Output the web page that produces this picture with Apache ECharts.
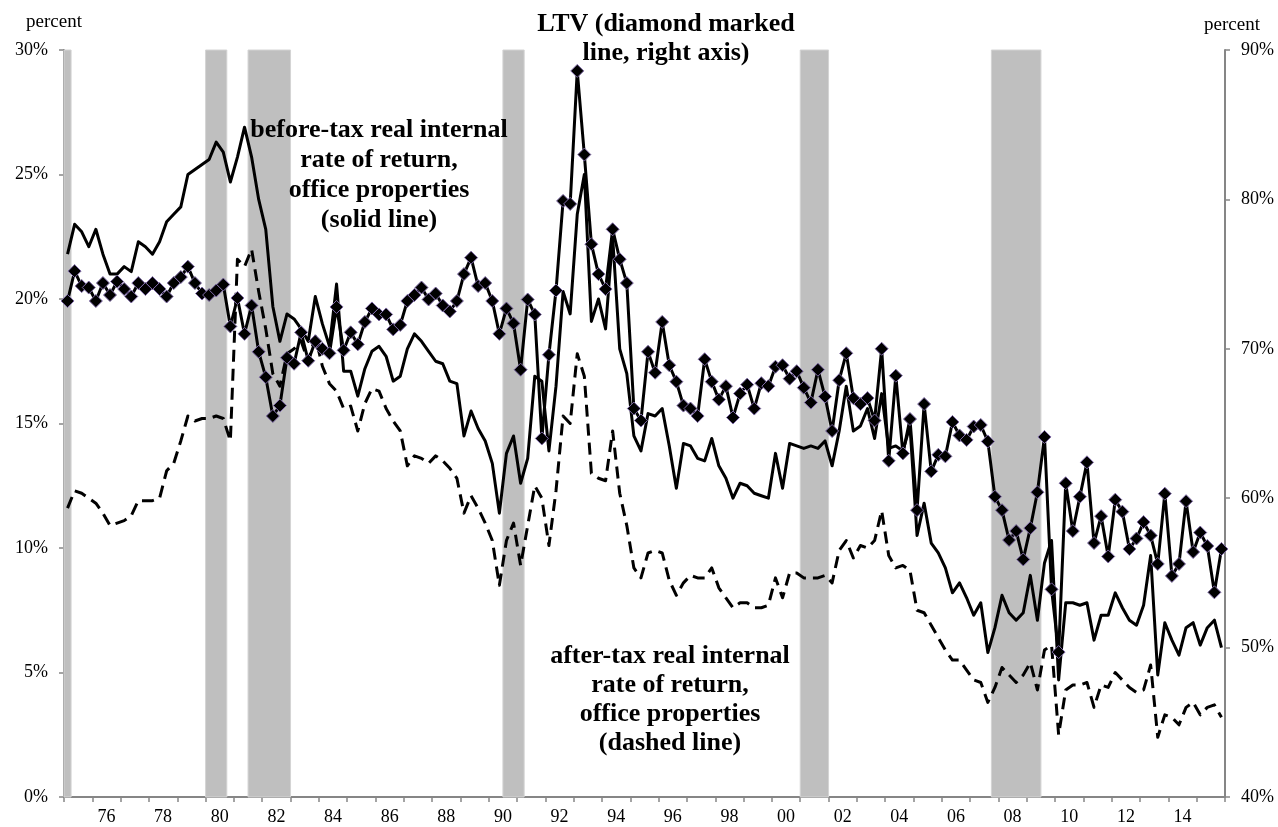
<!DOCTYPE html>
<html>
<head>
<meta charset="utf-8">
<script src="https://cdn.jsdelivr.net/npm/echarts@6/dist/echarts.min.js"></script>
<style>
html,body{margin:0;padding:0;background:#fff;}
#chart{width:1278px;height:827px;}
</style>
</head>
<body>
<div id="chart"></div>
<script>
// Quarterly categories 1975Q1 .. 2015Q4
const firstYear = 1975;
const lastYear = 2015;
const quarters = [];
const years = [];
for (let y = firstYear; y <= lastYear; y++) {
  years.push(String(y));
  for (let q = 1; q <= 4; q++) quarters.push(y + 'Q' + q);
}

// NBER recession periods (first and last quarter, shaded)
const recessionPeriods = [
  ['1975Q1', '1975Q1'],
  ['1980Q1', '1980Q3'],
  ['1981Q3', '1982Q4'],
  ['1990Q3', '1991Q1'],
  ['2001Q1', '2001Q4'],
  ['2007Q4', '2009Q2']
];

// LTV, percent (right axis), one value per quarter
const ltv = [
  73.2,75.2,74.2,74.1, 73.2,74.4,73.6,74.5, 74.0,73.5,74.4,74.0, 74.4,74.0,73.5,74.4,
  74.8,75.5,74.4,73.7, 73.6,73.9,74.3,71.5, 73.4,71.0,72.9,69.8, 68.1,65.5,66.2,69.4,
  69.0,71.1,69.2,70.5, 70.0,69.7,72.8,69.9, 71.1,70.3,71.8,72.7, 72.3,72.3,71.3,71.6,
  73.2,73.6,74.1,73.3, 73.7,72.9,72.5,73.2, 75.0,76.1,74.2,74.4, 73.2,71.0,72.7,71.7,
  68.6,73.3,72.3,64.0, 69.6,73.9,79.9,79.7, 88.6,83.0,77.0,75.0, 74.0,78.0,76.0,74.4,
  66.0,65.2,69.8,68.4, 71.8,68.9,67.8,66.2, 66.0,65.5,69.3,67.8, 66.6,67.5,65.4,67.0,
  67.6,66.0,67.7,67.5, 68.8,68.9,68.0,68.5, 67.4,66.4,68.6,66.8, 64.5,67.9,69.7,66.7,
  66.3,66.7,65.2,70.0, 62.5,68.2,63.0,65.3, 59.2,66.3,61.8,62.9, 62.8,65.1,64.2,63.9,
  64.8,64.9,63.8,60.1, 59.2,57.2,57.8,55.9, 58.0,60.4,64.1,53.9, 49.7,61.0,57.8,60.1,
  62.4,57.0,58.8,56.1, 59.9,59.1,56.6,57.3, 58.4,57.5,55.6,60.3, 54.8,55.6,59.8,56.4,
  57.7,56.8,53.7,56.6
];

// Before-tax real IRR, office properties, percent (left axis)
const beforeTax = [
  21.8,23.0,22.7,22.1, 22.8,21.8,21.0,21.0, 21.3,21.1,22.3,22.1, 21.8,22.3,23.1,23.4,
  23.7,25.0,25.2,25.4, 25.6,26.3,25.9,24.7, 25.7,26.9,25.7,24.0, 22.8,19.7,18.3,19.4,
  19.2,18.8,18.3,20.1, 19.0,18.1,20.6,17.1, 17.1,16.1,17.2,17.9, 18.1,17.7,16.7,16.9,
  18.0,18.6,18.3,17.9, 17.5,17.4,16.7,16.6, 14.5,15.5,14.8,14.3, 13.4,11.4,13.8,14.5,
  12.6,13.6,16.9,16.7, 13.9,16.5,20.3,19.4, 23.4,25.0,19.1,20.0, 18.8,22.5,18.0,17.0,
  14.5,13.9,15.4,15.3, 15.6,14.1,12.4,14.2, 14.1,13.6,13.5,14.4, 13.3,12.8,12.0,12.6,
  12.5,12.2,12.1,12.0, 13.8,12.4,14.2,14.1, 14.0,14.1,14.0,14.3, 13.3,14.7,16.5,14.7,
  14.9,15.6,14.4,16.2, 14.0,14.1,13.9,14.9, 10.5,11.8,10.2,9.8, 9.2,8.2,8.6,8.0,
  7.3,7.8,5.8,6.8, 8.1,7.4,7.1,7.4, 8.9,7.1,9.4,10.3, 4.7,7.8,7.8,7.7,
  7.8,6.3,7.3,7.3, 8.2,7.6,7.1,6.9, 7.7,9.7,4.9,7.0, 6.3,5.7,6.8,7.0,
  6.1,6.8,7.1,6.0
];

// After-tax real IRR, office properties, percent (left axis)
const afterTax = [
  11.6,12.3,12.2,12.0, 11.8,11.4,10.9,11.0, 11.1,11.3,11.9,11.9, 11.9,12.0,13.1,13.4,
  14.3,15.3,15.1,15.2, 15.2,15.3,15.2,14.3, 21.6,21.3,22.0,20.3, 18.8,17.0,16.5,17.8,
  18.0,18.3,17.5,18.5, 17.3,16.6,16.3,15.6, 15.7,14.7,15.8,16.4, 16.3,15.6,15.1,14.7,
  13.3,13.7,13.6,13.4, 13.7,13.5,13.2,12.8, 11.4,12.1,11.6,11.0, 10.3,8.5,10.3,11.0,
  9.3,10.9,12.5,12.0, 10.1,12.3,15.3,15.0, 17.8,16.9,13.0,12.8, 12.7,14.7,12.2,10.9,
  9.2,8.8,9.8,9.9, 9.8,8.7,8.1,8.6, 8.9,8.8,8.8,9.2, 8.4,8.0,7.6,7.8,
  7.8,7.6,7.6,7.7, 8.8,8.0,9.0,9.0, 8.8,8.8,8.8,8.9, 8.6,9.9,10.3,9.6,
  10.1,10.0,10.3,11.5, 9.7,9.2,9.3,9.1, 7.5,7.4,6.9,6.4, 5.9,5.5,5.5,5.1,
  4.7,4.6,3.8,4.4, 5.2,4.9,4.6,4.9, 5.4,4.3,5.9,6.1, 2.5,4.3,4.5,4.5,
  4.6,3.6,4.5,4.4, 5.0,4.7,4.4,4.2, 4.3,5.3,2.4,3.3, 3.2,2.9,3.6,3.8,
  3.3,3.6,3.7,3.2
];

const recessionData = recessionPeriods.map(p => [quarters.indexOf(p[0]), quarters.indexOf(p[1])]);

const serif = '"Liberation Serif", "DejaVu Serif", serif';
const axisGray = '#868686';

const chart = echarts.init(document.getElementById('chart'), null, {renderer: 'canvas'});
chart.setOption({
  animation: false,
  backgroundColor: '#ffffff',
  grid: {left: 64, right: 53, top: 50, bottom: 30, containLabel: false, outerBoundsMode: 'none'},
  xAxis: [
    {
      type: 'category', data: quarters, boundaryGap: true, show: false
    },
    {
      type: 'category', data: years, boundaryGap: true, position: 'bottom',
      axisLine: {show: true, lineStyle: {color: axisGray, width: 2}},
      axisTick: {show: true, interval: 0, length: 5, lineStyle: {color: axisGray, width: 1.5}},
      axisLabel: {
        show: true,
        interval: function (index, value) { return parseInt(value, 10) % 2 === 0; },
        formatter: function (v) { return v.slice(2); },
        fontFamily: serif, fontSize: 18, color: '#000', margin: 11
      },
      splitLine: {show: false}
    }
  ],
  yAxis: [
    {
      type: 'value', position: 'left', min: 0, max: 30, interval: 5,
      axisLine: {show: true, lineStyle: {color: axisGray, width: 2}},
      axisTick: {show: true, length: 5, lineStyle: {color: axisGray, width: 1.5}},
      axisLabel: {formatter: '{value}%', fontFamily: serif, fontSize: 18, color: '#000', margin: 16},
      splitLine: {show: false}
    },
    {
      type: 'value', position: 'right', min: 40, max: 90, interval: 10,
      axisLine: {show: true, lineStyle: {color: axisGray, width: 2}},
      axisTick: {show: true, length: 5, lineStyle: {color: axisGray, width: 1.5}},
      axisLabel: {formatter: '{value}%', fontFamily: serif, fontSize: 18, color: '#000', margin: 16},
      splitLine: {show: false}
    },
    {
      type: 'value', min: 0, max: 1, show: false
    }
  ],
  series: [
    {
      name: 'recession', type: 'custom', xAxisIndex: 0, yAxisIndex: 2,
      data: recessionData, silent: true, z: 1,
      encode: {x: [0, 1]},
      renderItem: function (params, api) {
        const p0 = api.coord([api.value(0), 0]);
        const p1 = api.coord([api.value(1), 1]);
        const bw = api.size([1, 0])[0];
        const cs = params.coordSys;
        return {
          type: 'rect',
          shape: {x: p0[0] - bw / 2, y: cs.y, width: p1[0] - p0[0] + bw, height: cs.height},
          style: {fill: '#BFBFBF', stroke: '#D4D4D4', lineWidth: 1}
        };
      }
    },
    {
      name: 'after-tax', type: 'line', xAxisIndex: 0, yAxisIndex: 0,
      data: afterTax, symbol: 'none',
      lineStyle: {color: '#000', width: 3, type: [12, 7], join: 'round'}, z: 3
    },
    {
      name: 'before-tax', type: 'line', xAxisIndex: 0, yAxisIndex: 0,
      data: beforeTax, symbol: 'none',
      lineStyle: {color: '#000', width: 3, join: 'round'}, z: 4
    },
    {
      name: 'LTV', type: 'line', xAxisIndex: 0, yAxisIndex: 1,
      data: ltv, symbol: 'diamond', symbolSize: 13, showSymbol: true, showAllSymbol: true,
      lineStyle: {color: '#000', width: 3, join: 'round'},
      itemStyle: {color: '#000', borderColor: '#7E6AA6', borderWidth: 1},
      z: 5
    }
  ],
  graphic: [
    {type: 'text', z: 100, x: 54, y: 22, style: {text: 'percent', font: '19px ' + serif, fill: '#000', textAlign: 'center', textVerticalAlign: 'middle'}},
    {type: 'text', z: 100, x: 1232, y: 25, style: {text: 'percent', font: '19px ' + serif, fill: '#000', textAlign: 'center', textVerticalAlign: 'middle'}},
    {type: 'text', z: 100, x: 666, y: 10, style: {text: 'LTV (diamond marked\nline, right axis)', font: 'bold 26px ' + serif, fill: '#000', textAlign: 'center', textVerticalAlign: 'top', lineHeight: 29}},
    {type: 'text', z: 100, x: 379, y: 115, style: {text: 'before-tax real internal\nrate of return,\noffice properties\n(solid line)', font: 'bold 26px ' + serif, fill: '#000', textAlign: 'center', textVerticalAlign: 'top', lineHeight: 30}},
    {type: 'text', z: 100, x: 670, y: 642, style: {text: 'after-tax real internal\nrate of return,\noffice properties\n(dashed line)', font: 'bold 26px ' + serif, fill: '#000', textAlign: 'center', textVerticalAlign: 'top', lineHeight: 29}}
  ]
});
</script>
</body>
</html>
